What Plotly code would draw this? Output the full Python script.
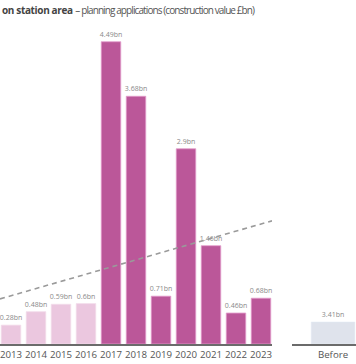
import plotly.graph_objects as go

years = [2013, 2014, 2015, 2016, 2017, 2018, 2019, 2020, 2021, 2022, 2023]
values = [0.28, 0.48, 0.59, 0.60, 4.49, 3.68, 0.71, 2.90, 1.46, 0.46, 0.68]
labels = ["0.28bn", "0.48bn", "0.59bn", "0.6bn", "4.49bn", "3.68bn", "0.71bn", "2.9bn", "1.46bn", "0.46bn", "0.68bn"]
period = ["pre", "pre", "pre", "pre", "post", "post", "post", "post", "post", "post", "post"]

trend_x = [2012.56, 2023.44]
trend_y = [0.67, 1.83]

cmp_cats = ["Before"]
cmp_values = [3.41]
cmp_labels = ["3.41bn"]

title_bold = "on station area"
title_rest = "– planning applications (construction value £bn)"

LIGHT = "#ebc7df"
DARK = "#bb5799"
colors = [LIGHT if p == "pre" else DARK for p in period]
edge = ["#f3dcea" if p == "pre" else "#e39ccb" for p in period]

fig = go.Figure()
fig.add_trace(go.Bar(
    x=years, y=values, text=labels, textposition="outside",
    textfont=dict(size=7, color="#8a8a8a", family="Open Sans"),
    constraintext="none", cliponaxis=False,
    marker=dict(color=colors, line=dict(color=edge, width=0.8)),
    width=0.78, xaxis="x", yaxis="y", showlegend=False, hoverinfo="skip",
))
fig.add_trace(go.Scatter(
    x=trend_x, y=trend_y, mode="lines",
    line=dict(color="#9a9a9a", width=1.6, dash="5px,4px"),
    xaxis="x", yaxis="y", showlegend=False, hoverinfo="skip",
))
fig.add_trace(go.Bar(
    x=cmp_cats, y=cmp_values, text=cmp_labels, textposition="outside",
    textfont=dict(size=7, color="#8a8a8a", family="Open Sans"),
    constraintext="none", cliponaxis=False,
    marker=dict(color="#dfe3ec"), width=0.78,
    xaxis="x2", yaxis="y2", showlegend=False, hoverinfo="skip",
))

axis_font = dict(size=9.7, color="#555555", family="Open Sans")
title_text = (
    f"<span style='font-weight:bold;letter-spacing:-0.35px;fill:#444444'>{title_bold}</span> "
    f"<span style='letter-spacing:-0.9px'>{title_rest}</span>"
)
fig.update_layout(
    width=356, height=364,
    margin=dict(l=0, r=0, t=0, b=0),
    paper_bgcolor="white", plot_bgcolor="white",
    bargap=0.2,
    xaxis=dict(domain=[0, 272 / 356], range=[2012.56, 2023.44], tickmode="array",
               tickvals=years, ticktext=[str(y) for y in years], showgrid=False,
               zeroline=False, showline=True, linecolor="#6b6b6b", linewidth=2,
               ticks="", tickangle=0, tickfont=axis_font, anchor="y",
               ticklabeloverflow="allow"),
    yaxis=dict(domain=[20 / 364, 1], range=[0, 5.11], visible=False),
    xaxis2=dict(domain=[292 / 356, 1], range=[-0.732, 0.41], showgrid=False,
                zeroline=False, showline=True, linecolor="#6b6b6b", linewidth=2,
                ticks="", tickangle=0, tickfont=axis_font, anchor="y2", type="category",
                ticklabeloverflow="allow"),
    yaxis2=dict(domain=[20 / 364, 1], range=[0, 53.3], visible=False, anchor="x2"),
    annotations=[dict(
        x=0, y=1 - 10 / 364, xref="paper", yref="paper", xanchor="left", yanchor="middle",
        text=title_text,
        showarrow=False, font=dict(size=10, color="#555555", family="Open Sans"),
    )],
)

fig.write_html("out.html", config={"displayModeBar": False, "staticPlot": True},
               post_script="document.body.style.margin='0';document.body.style.overflow='hidden';")
